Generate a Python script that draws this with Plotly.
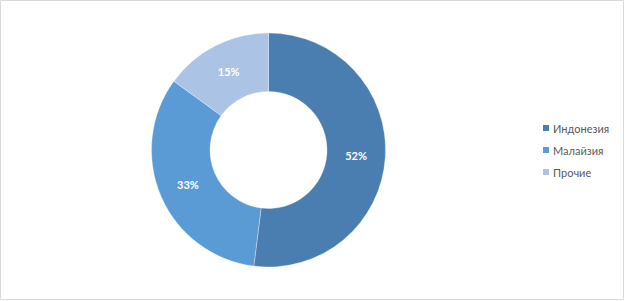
import plotly.graph_objects as go

labels = ["Индонезия", "Малайзия", "Прочие"]
values = [52, 33, 15]
colors = ["#4a7eb1", "#5b9bd5", "#abc4e6"]

W, H = 625, 301
cx, cy, r = 268.5, 150, 117

fig = go.Figure(go.Pie(
    labels=labels,
    values=values,
    hole=0.5,
    sort=False,
    direction="clockwise",
    rotation=0,
    marker=dict(colors=colors, line=dict(color="rgba(255,255,255,0.6)", width=0.5)),
    texttemplate="<b>%{percent:.0%}</b>",
    textposition="inside",
    insidetextorientation="horizontal",
    textfont=dict(family="Lato, Open Sans, sans-serif", size=11, color="white"),
    domain=dict(x=[(cx - r) / W, (cx + r) / W], y=[(H - cy - r) / H, (H - cy + r) / H]),
    showlegend=False,
))

# Legend drawn as small squares and text (Excel-style)
legend_x = 543
legend_y0 = 128
legend_step = 22
shapes = [dict(type="rect", xref="paper", yref="paper", x0=0.5 / W, y0=1.5 / H, x1=1 - 1.5 / W, y1=1 - 0.5 / H,
               line=dict(color="#d9d9d9", width=1))]
annotations = []
for i, (lab, col) in enumerate(zip(labels, colors)):
    yc = legend_y0 + i * legend_step
    shapes.append(dict(type="rect", xref="paper", yref="paper",
                       x0=legend_x / W, x1=(legend_x + 6) / W,
                       y0=(H - yc - 3) / H, y1=(H - yc + 3) / H,
                       fillcolor=col, line=dict(width=0)))
    annotations.append(dict(text=lab, xref="paper", yref="paper",
                            x=(legend_x + 8) / W, y=(H - yc) / H,
                            xanchor="left", yanchor="middle", showarrow=False,
                            font=dict(family="Lato, Open Sans, sans-serif", size=11, color="#595959")))

fig.update_layout(
    width=W, height=H,
    margin=dict(l=0, r=0, t=0, b=0),
    paper_bgcolor="white",
    plot_bgcolor="white",
    shapes=shapes,
    annotations=annotations,
)

fig.write_html("out.html")
